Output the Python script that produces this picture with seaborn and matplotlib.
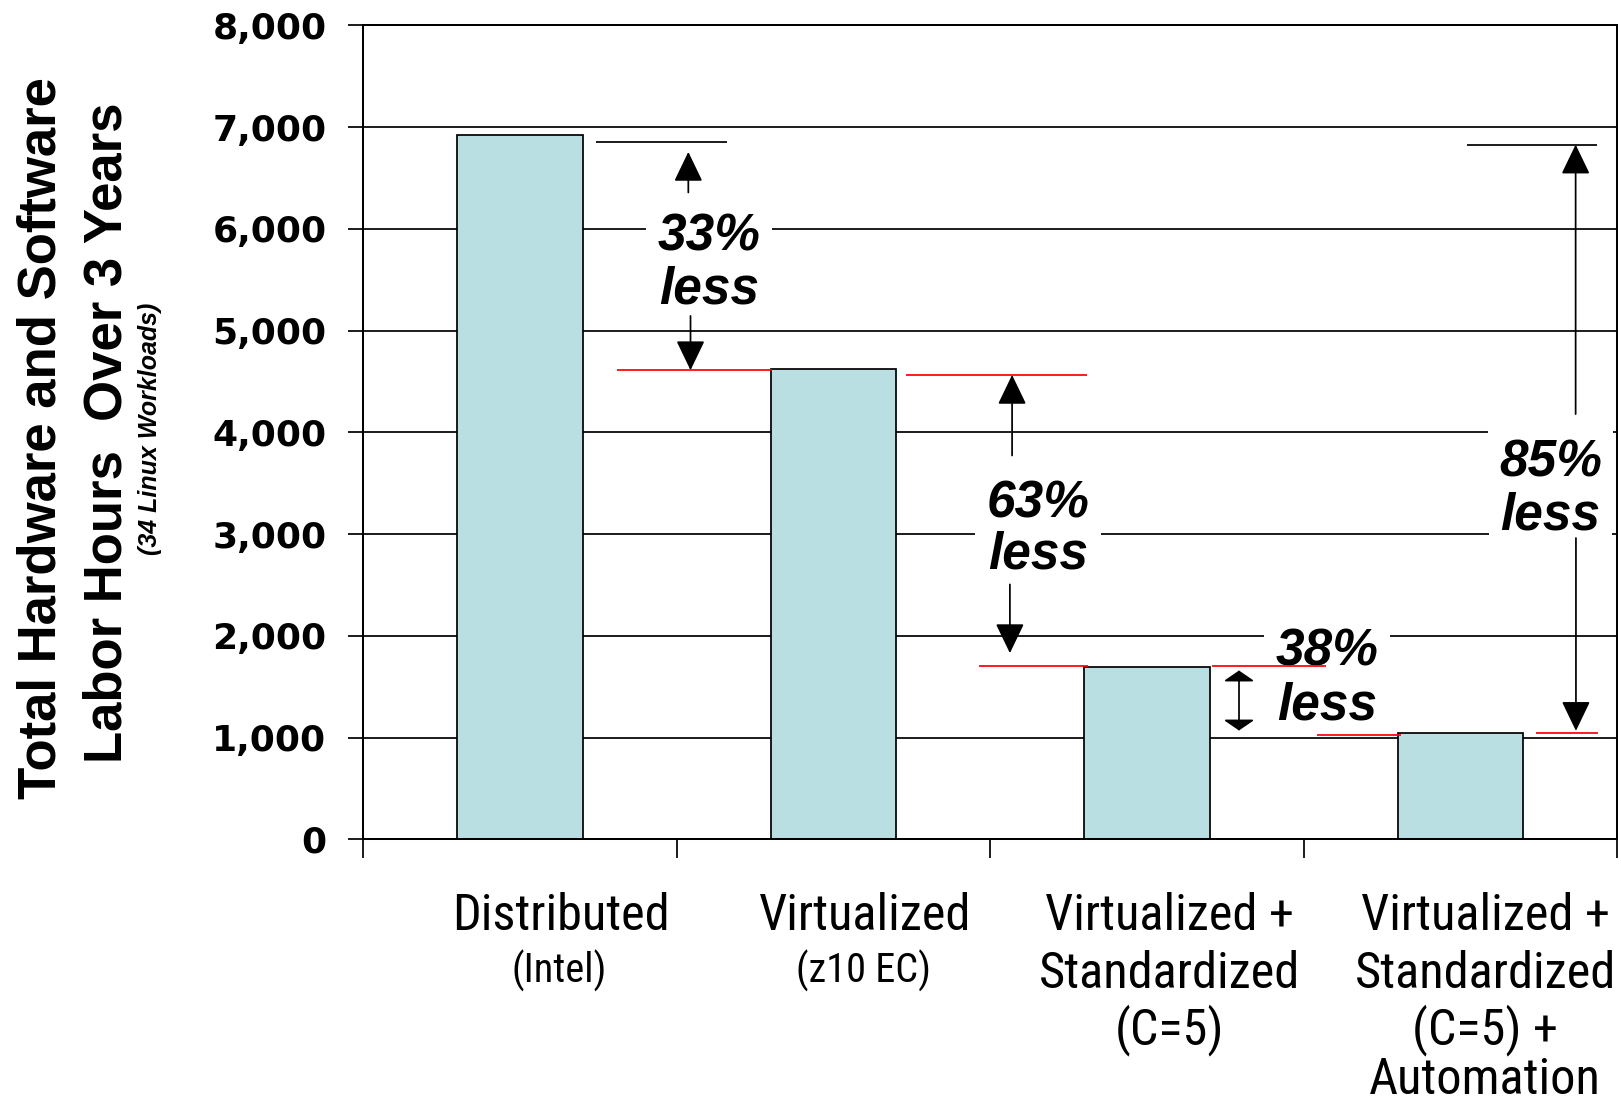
import numpy as np
import pandas as pd
import matplotlib
matplotlib.use("Agg")
import matplotlib.pyplot as plt
from matplotlib import font_manager
from matplotlib.font_manager import FontProperties
from matplotlib.textpath import TextPath
from matplotlib.transforms import offset_copy
import seaborn as sns

# ---------------------------------------------------------------- data
categories = ["Distributed", "Virtualized", "Virtualized + Standardized (C=5)",
              "Virtualized + Standardized (C=5) + Automation"]
labor_hours = [6920, 4620, 1690, 1045]
label_lines = [["Distributed"],
               ["Virtualized"],
               ["Virtualized +", "Standardized", "(C=5)"],
               ["Virtualized +", "Standardized", "(C=5) +", "Automation"]]
label_notes = ["(Intel)", "(z10 EC)", "", ""]
y_ticks = [0, 1000, 2000, 3000, 4000, 5000, 6000, 7000, 8000]
reduction_labels = ["33%", "63%", "38%", "85%"]

# ---------------------------------------------------------------- look
W, H, DPI = 1621, 1104, 100
BAR_COLOR = "#B9DFE2"
LINE_W = 1.25

sns.set_style("white")
plt.rcParams["font.family"] = ["Liberation Sans", "DejaVu Sans"]
for key in ("text.color", "axes.labelcolor", "xtick.color", "ytick.color", "axes.edgecolor"):
    plt.rcParams[key] = "black"


def pick_condensed():
    entries = font_manager.fontManager.ttflist
    for wanted in ["Liberation Sans Narrow", "Roboto Condensed", "Open Sans Condensed",
                   "DejaVu Sans Condensed"]:
        for f in entries:
            if f.name == wanted and f.style == "normal" and f.weight in (400, "normal", "regular", "book"):
                return f.fname
    for f in entries:
        if (f.stretch in ("condensed", "semi-condensed") and f.style == "normal"
                and f.weight in (400, "normal", "regular", "book")):
            return f.fname
    return None


narrow_path = pick_condensed()


def narrow_props(target_text, target_px, max_size):
    fp = FontProperties(fname=narrow_path) if narrow_path else FontProperties(family="Liberation Sans")
    fp.set_size(100)
    w = TextPath((0, 0), target_text, prop=fp).get_extents().width * DPI / 72.0
    size = min(max_size, 100 * target_px / w)
    fp.set_size(size)
    return fp


fp_cat = narrow_props("Standardized", 256, 38)
fp_note = narrow_props("(z10 EC)", 135, 29)

fig = plt.figure(figsize=(W / DPI, H / DPI), dpi=DPI)
ax_left, ax_right, ax_top, ax_bottom = 363.3, 1617.0, 25.3, 839.3
ax = fig.add_axes([ax_left / W, 1 - ax_bottom / H, (ax_right - ax_left) / W,
                   (ax_bottom - ax_top) / H])

df = pd.DataFrame({"category": categories, "hours": labor_hours})
sns.barplot(data=df, x="category", y="hours", order=categories, color=BAR_COLOR,
            saturation=1, width=0.4, edgecolor="black", linewidth=LINE_W, ax=ax, zorder=2)

ax.set_xlim(-0.5, len(categories) - 0.5)
ax.set_ylim(0, 8000)
ax.set_xlabel("")
ax.set_ylabel("")
ax.set_axisbelow(True)
ax.yaxis.grid(True, color="black", linewidth=LINE_W)
ax.xaxis.grid(False)
for sp in ax.spines.values():
    sp.set_visible(True)
    sp.set_color("black")
    sp.set_linewidth(LINE_W + 0.2)

ax.set_yticks(y_ticks)
ax.set_yticklabels([f"{v:,}" for v in y_ticks], fontfamily="DejaVu Sans",
                   fontweight="bold", fontsize=26, color="black")
ax.set_xticks(np.arange(-0.5, len(categories), 1.0))
ax.set_xticklabels([])
ax.tick_params(axis="y", direction="out", length=11, width=LINE_W, pad=15.5, left=True,
               color="black")
ax.tick_params(axis="x", direction="out", length=13.5, width=LINE_W, bottom=True,
               color="black")

# category names below the axis, one text per line (baseline offsets in pixels)
label_dx = [0.13, 0.10, 0.073, 0.08]
line_drop = [90.7, 148.5, 205.5, 255.0]
note_drop = 143.7
for i, lines in enumerate(label_lines):
    for j, line in enumerate(lines):
        tr = offset_copy(ax.get_xaxis_transform(), fig=fig, y=-line_drop[j], units="dots")
        ax.text(i + label_dx[i], 0, line, transform=tr, ha="center", va="baseline",
                fontproperties=fp_cat, color="black", clip_on=False)
    if label_notes[i]:
        tr = offset_copy(ax.get_xaxis_transform(), fig=fig, y=-note_drop, units="dots")
        ax.text(i + label_dx[i] - 0.004, 0, label_notes[i], transform=tr, ha="center",
                va="baseline", fontproperties=fp_note, color="black", clip_on=False)

# y axis title
title_kw = dict(rotation=90, rotation_mode="anchor", ha="center", va="baseline",
                fontfamily="Liberation Sans", fontweight="bold", fontsize=38, color="black")
fig.text(56 / W, 1 - 438 / H, "Total Hardware and Software", **title_kw)
fig.text(121 / W, 1 - 433 / H, "Labor Hours  Over 3 Years", **title_kw)
fig.text(157 / W, 1 - 429 / H, "(34 Linux Workloads)", rotation=90, rotation_mode="anchor",
         ha="center", va="baseline", fontfamily="Liberation Sans", fontweight="bold",
         fontstyle="italic", fontsize=18, color="black")

# level guides next to the bars: (bar, x0, x1, colour, pixel drop below bar top)
guides = [
    (0, 0.243, 0.661, "black", 7.0),
    (1, 0.309, 0.803, "red", 1.0),
    (1, 1.232, 1.809, "red", 5.7),
    (2, 1.465, 1.811, "red", -1.7),
    (2, 2.209, 2.571, "red", -1.0),
    (3, 2.544, 2.812, "red", 2.4),
    (3, 3.241, 3.438, "red", 0.0),
    (0, 3.022, 3.437, "black", 9.4),
]
guide_tr = []
for b, x0, x1, col, drop in guides:
    tr = offset_copy(ax.transData, fig=fig, y=-drop, units="dots")
    guide_tr.append(tr)
    ax.plot([x0, x1], [labor_hours[b], labor_hours[b]], transform=tr, color=col,
            lw=LINE_W, solid_capstyle="butt", zorder=6, clip_on=False)


def guide_level(k):
    return labor_hours[guides[k][0]]


# reduction labels: (text index, x centre, baseline of first line, baseline of "less",
# whether "less" needs a white backing to break a grid line)
label_pos = [(0, 0.603, 5790, 5266, True), (1, 1.653, 3163, 2657, True),
             (2, 2.575, 1710, 1177, False), (3, 3.288, 3570, 3042, True)]
pct_kw = dict(ha="center", va="baseline", fontfamily="Liberation Sans", fontweight="bold",
              fontstyle="italic", fontsize=37, color="black", zorder=4)
backing = dict(boxstyle="square,pad=0.22", fc="white", ec="none")
for k, x, y1, y2, back in label_pos:
    ax.text(x, y1, reduction_labels[k], bbox=backing, **pct_kw)
    ax.text(x, y2, "less", bbox=backing if back else None, **pct_kw)

# arrows from the labels to the guides: (x, tail, guide index, gap in points)
arrow_style = "-|>,head_length=18.7,head_width=9"
arrows = [(0.537, 6357, 0, 7.0), (0.544, 5144, 1, 0.0),
          (1.570, 3772, 2, 0.0), (1.563, 2505, 3, 9.0),
          (3.368, 4179, 7, 0.0), (3.369, 2961, 6, 1.5)]
for x, tail, g, gap in arrows:
    ax.annotate("", xy=(x, guide_level(g)), xycoords=guide_tr[g], xytext=(x, tail),
                textcoords="data", zorder=7,
                arrowprops=dict(arrowstyle=arrow_style, mutation_scale=1, lw=LINE_W,
                                color="black", shrinkA=0, shrinkB=gap))

# short double arrow between the third and fourth bar levels
ax.annotate("", xy=(2.294, guide_level(5)), xycoords=guide_tr[5],
            xytext=(2.294, guide_level(4)), textcoords=guide_tr[4], zorder=7,
            arrowprops=dict(arrowstyle="<|-|>,head_length=6.5,head_width=9.5",
                            mutation_scale=1, lw=LINE_W, color="black",
                            shrinkA=3.0, shrinkB=3.5))

fig.savefig("out.png", dpi=DPI, facecolor="white")
